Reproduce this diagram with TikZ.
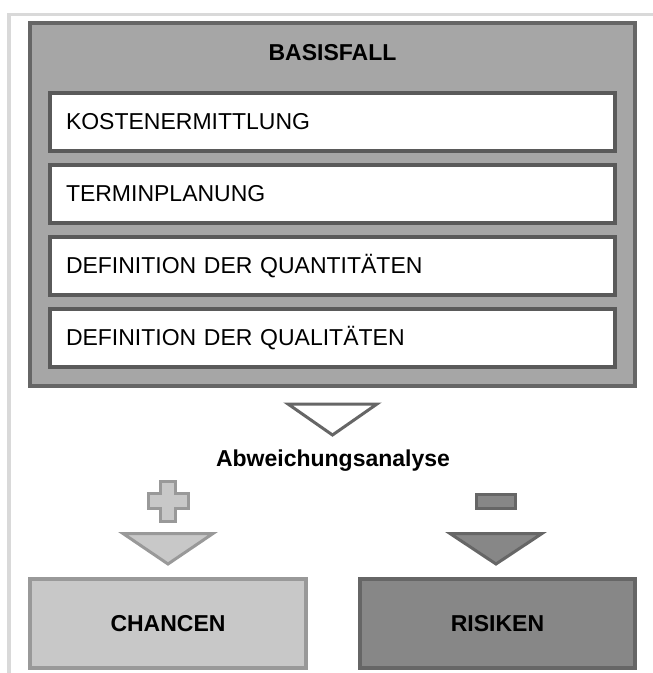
\documentclass[tikz,border=0pt]{standalone}
\usepackage{fontspec}
\setmainfont{Liberation Sans}
\usepackage{xcolor}
\usetikzlibrary{positioning}

\definecolor{framegray}{HTML}{D9D9D9}
\definecolor{basefill}{HTML}{A6A6A6}
\definecolor{baseline}{HTML}{666666}
\definecolor{itemline}{HTML}{5A5A5A}
\definecolor{chancefill}{HTML}{C8C8C8}
\definecolor{chanceline}{HTML}{999999}
\definecolor{riskfill}{HTML}{878787}
\definecolor{riskline}{HTML}{666666}

\begin{document}
\begin{tikzpicture}[
  x=1pt,y=-1pt,
  font=\fontsize{23}{27}\selectfont,
  every node/.style={outer sep=0pt},
  basebox/.style={rectangle,draw=baseline,fill=basefill,line width=3.5pt,minimum width=605pt,minimum height=363pt},
  itembox/.style={rectangle,draw=itemline,fill=white,line width=3.5pt,inner xsep=16pt,text width=533pt,align=left,minimum height=58pt},
  resultbox/.style={rectangle,line width=3.5pt,minimum width=276pt,minimum height=89pt,font=\fontsize{23}{27}\selectfont\bfseries},
  tri/.style={line width=3pt,line join=miter}
]
\useasboundingbox (0,0) rectangle (653,673);
% light frame at the left and top
\draw[framegray,line width=3.5pt] (653,14.5) -- (9,14.5) -- (9,673);

% base case with its four items
\node[basebox] (base) at (332.5,204.5) {};
\node[font=\fontsize{23}{27}\selectfont\bfseries] (basetitle) at (332.5,53) {BASISFALL};
\node[itembox] (cost) at (332.5,122) {KOSTENERMITTLUNG};
\node[itembox,below=14pt of cost] (sched) {TERMINPLANUNG};
\node[itembox,below=14pt of sched] (quant) {DEFINITION DER QUANTITÄTEN};
\node[itembox,below=14pt of quant] (qual) {DEFINITION DER QUALITÄTEN};

% deviation analysis
\draw[tri,draw=baseline,fill=white] (288,404) -- (377,404) -- (332.5,435) -- cycle;
\node[font=\fontsize{23}{27}\selectfont\bfseries] (dev) at (333,461) {Abweichungsanalyse};

% plus / minus
\draw[line width=3pt,draw=chanceline,fill=chancefill]
  (160.5,481) -- (175.5,481) -- (175.5,493.5) -- (188,493.5) -- (188,508.5) -- (175.5,508.5)
  -- (175.5,521) -- (160.5,521) -- (160.5,508.5) -- (148,508.5) -- (148,493.5) -- (160.5,493.5) -- cycle;
\draw[line width=3pt,draw=riskline,fill=riskfill] (476.5,494.5) rectangle (515.5,508.5);

\draw[tri,draw=chanceline,fill=chancefill] (123,533.5) -- (213,533.5) -- (168,564) -- cycle;
\draw[tri,draw=riskline,fill=riskfill] (450,533.5) -- (542,533.5) -- (496,564) -- cycle;

% results
\node[resultbox,draw=chanceline,fill=chancefill] (chance) at (168,623.5) {CHANCEN};
\node[resultbox,draw=riskline,fill=riskfill,minimum width=275pt] (risk) at (497.5,623.5) {RISIKEN};
\end{tikzpicture}
\end{document}
